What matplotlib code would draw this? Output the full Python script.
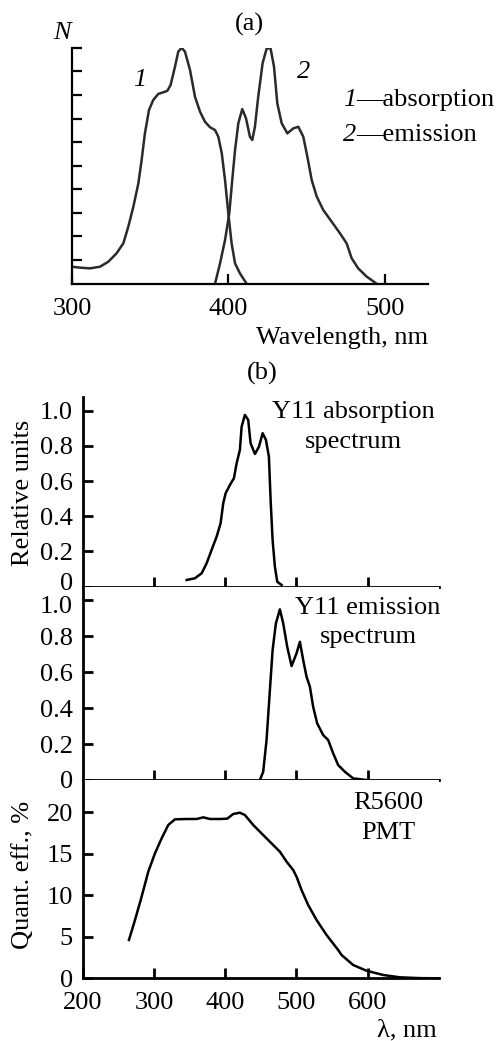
import matplotlib
matplotlib.use("Agg")
import matplotlib.pyplot as plt
import matplotlib.transforms as mtransforms

# panel (a): absorption (1) and emission (2), arbitrary units N
abs_nm = [300, 305.1, 311.5, 317.9, 323.2, 328.5, 332.8, 336.0, 339.2, 342.4,
          344.5, 346.6, 349.2, 351.9, 355.1, 358.3, 360.9, 363.0, 365.8, 367.9,
          370.1, 372.2, 375.4, 378.6, 381.8, 385.0, 388.2, 391.4, 393.5, 395.7,
          397.8, 399.9, 402.0, 404.2, 407.3, 411.6]
abs_n = [0.72, 0.68, 0.65, 0.72, 0.93, 1.29, 1.71, 2.42, 3.26, 4.25,
         5.24, 6.37, 7.36, 7.78, 8.04, 8.11, 8.17, 8.42, 9.19, 9.83,
         10.0, 9.83, 9.06, 7.92, 7.29, 6.86, 6.63, 6.51, 6.23, 5.53,
         4.39, 2.98, 1.71, 0.86, 0.44, 0.0]
emi_nm = [391.4, 394.6, 397.8, 400.5, 402.4, 404.2, 406.3, 408.8, 411.2, 413.7,
          415.2, 416.9, 419.0, 421.8, 424.4, 426.9, 429.1, 431.2, 434.0, 437.6,
          441.4, 444.6, 447.8, 450.4, 453.2, 456.4, 460.6, 465.9, 471.2, 475.5,
          478.7, 482.9, 488.3, 494.7]
emi_n = [0.0, 0.86, 1.85, 2.98, 4.39, 5.67, 6.8, 7.40, 7.01, 6.23,
         6.09, 6.65, 7.92, 9.34, 9.97, 9.97, 9.19, 7.64, 6.80, 6.37,
         6.58, 6.65, 6.23, 5.38, 4.39, 3.69, 3.12, 2.63, 2.14, 1.71,
         1.08, 0.65, 0.30, 0.0]

# panel (b): Y11 absorption, Y11 emission, R5600 PMT quantum efficiency
y11a_nm = [345.9, 357.5, 366.9, 373.9, 380.9, 387.9, 393.5, 397.2, 400.6, 406.6,
           412.2, 416.0, 420.6, 423.0, 427.6, 432.3, 435.6, 441.7, 447.3, 452.5,
           457.1, 461.3, 463.7, 466.5, 469.7, 473.0, 479.1]
y11a_rel = [0.038, 0.048, 0.076, 0.133, 0.209, 0.284, 0.36, 0.474, 0.531, 0.578,
            0.616, 0.701, 0.777, 0.909, 0.976, 0.947, 0.815, 0.754, 0.795, 0.872,
            0.834, 0.739, 0.493, 0.265, 0.114, 0.028, 0.01]
y11e_nm = [448.7, 453.3, 458.0, 462.7, 466.5, 471.1, 476.7, 481.4, 487.0, 493.1,
           500.1, 504.8, 509.4, 514.1, 518.8, 523.4, 529.0, 537.4, 544.5, 551.5,
           558.5, 567.9, 579.5, 598.3]
y11e_rel = [0.0, 0.046, 0.222, 0.5, 0.722, 0.87, 0.948, 0.87, 0.74, 0.633,
            0.704, 0.768, 0.667, 0.574, 0.519, 0.407, 0.315, 0.25, 0.222, 0.148,
            0.083, 0.046, 0.009, 0.0]
pmt_nm = [264.9, 273.4, 282.7, 292.0, 301.4, 310.8, 320.1, 329.5, 345.9, 359.9,
          369.2, 378.5, 392.6, 402.8, 411.2, 420.6, 427.6, 439.3, 453.3, 467.3,
          476.7, 486.1, 495.4, 500.1, 507.1, 516.4, 528.2, 542.2, 558.5, 563.3,
          579.5, 598.3, 621.6, 645.0, 673.0, 700.0]
pmt_qe = [4.61, 7.01, 9.82, 12.82, 15.03, 16.84, 18.44, 19.12, 19.16, 19.16,
          19.36, 19.16, 19.16, 19.2, 19.76, 19.92, 19.64, 18.44, 17.23, 16.03,
          15.23, 14.03, 13.02, 12.22, 10.62, 8.82, 7.01, 5.21, 3.40, 2.8,
          1.6, 0.91, 0.4, 0.12, 0.02, 0.0]

rel_ticks = [0, 0.2, 0.4, 0.6, 0.8, 1.0]
rel_labels = ["0", "0.2", "0.4", "0.6", "0.8", "1.0"]
qe_ticks = [0, 5, 10, 15, 20]

FS = 19
plt.rcParams["font.family"] = ["Liberation Serif", "DejaVu Serif"]
plt.rcParams["font.size"] = FS

W, H = 503, 1041
fig = plt.figure(figsize=(W / 100, H / 100), dpi=100)


def box(left, top, right, bottom):
    # pixel box -> figure fraction rect
    return [left / W, 1 - bottom / H, (right - left) / W, (bottom - top) / H]


def ftext(x, y, s, **kw):
    # place text by pixel position measured from the top-left corner
    kw.setdefault("ha", "center")
    kw.setdefault("va", "center")
    return fig.text(x / W, 1 - y / H, s, **kw)


def style(ax, lw):
    for s in ["top", "right"]:
        ax.spines[s].set_visible(False)
    for s in ["left", "bottom"]:
        ax.spines[s].set_linewidth(lw)
    ax.tick_params(direction="in", length=7, width=lw, labelsize=FS)


# ---- (a)
ax = fig.add_axes(box(72, 47.7, 428, 283.7))
style(ax, 1.6)
ax.plot(abs_nm, abs_n, color="#2a2a2a", lw=1.8)
ax.plot(emi_nm, emi_n, color="#2a2a2a", lw=1.8)
ax.set_xlim(300, 527.5)
ax.set_ylim(0, 10)
ax.set_xticks([300, 400, 500])
ax.set_yticks(range(1, 11))
ax.tick_params(axis="y", labelleft=False)
ax.tick_params(axis="x", pad=10)

ftext(140, 80, "1", fontstyle="italic")
ftext(304, 72, "2", fontstyle="italic")
ftext(62, 33, "N", fontstyle="italic")
ftext(249, 24, "(a)")
ftext(356, 100, "1", fontstyle="italic", ha="right")
ftext(356, 100, "—absorption", ha="left")
ftext(356, 135, "2", fontstyle="italic", ha="right")
ftext(356, 135, "—emission", ha="left")
ftext(428, 338, "Wavelength, nm", ha="right")

# ---- (b)
ftext(262, 373, "(b)")

ax1 = fig.add_axes(box(82.7, 397.3, 439, 586.7))
ax2 = fig.add_axes(box(82.7, 586.7, 439, 780))
ax3 = fig.add_axes(box(82.7, 780, 439, 978.3))

for a in (ax1, ax2, ax3):
    style(a, 2.0)
    a.set_xlim(200, 700)
    a.tick_params(axis="y", pad=7)
    a.tick_params(axis="x", pad=10)

ax1.plot(y11a_nm, y11a_rel, color="black", lw=1.8)
ax1.set_ylim(0, 1.076)
ax1.set_xticks([300, 400, 500, 600])
ax1.set_xticklabels([])
ax1.set_yticks(rel_ticks, rel_labels)

ax2.plot(y11e_nm, y11e_rel, color="black", lw=1.8)
ax2.set_ylim(0, 1.074)
ax2.set_xticks([300, 400, 500, 600])
ax2.set_xticklabels([])
ax2.set_yticks(rel_ticks, rel_labels)

ax3.plot(pmt_nm, pmt_qe, color="black", lw=1.8)
ax3.set_ylim(0, 23.85)
ax3.set_xticks([200, 300, 400, 500, 600])
ax3.set_yticks(qe_ticks)

# the "0" of one panel and the "1.0" of the next sit very close: nudge apart
up = mtransforms.ScaledTranslation(0, 4 / 72, fig.dpi_scale_trans)
down = mtransforms.ScaledTranslation(0, -3 / 72, fig.dpi_scale_trans)
lab = ax1.get_yticklabels()[0]
lab.set_transform(lab.get_transform() + up)
lab = ax2.get_yticklabels()[-1]
lab.set_transform(lab.get_transform() + down)

ftext(353, 411.7, "Y11 absorption")
ftext(353, 441.7, "spectrum")
ftext(368, 608, "Y11 emission")
ftext(368, 636.7, "spectrum")
ftext(388, 803, "R5600")
ftext(388, 833, "PMT")
ftext(23, 493, "Relative units", rotation=90)
ftext(23, 875, "Quant. eff., %", rotation=90)
ftext(437, 1030, "λ, nm", ha="right")

fig.savefig("out.png", dpi=100, facecolor="white")
